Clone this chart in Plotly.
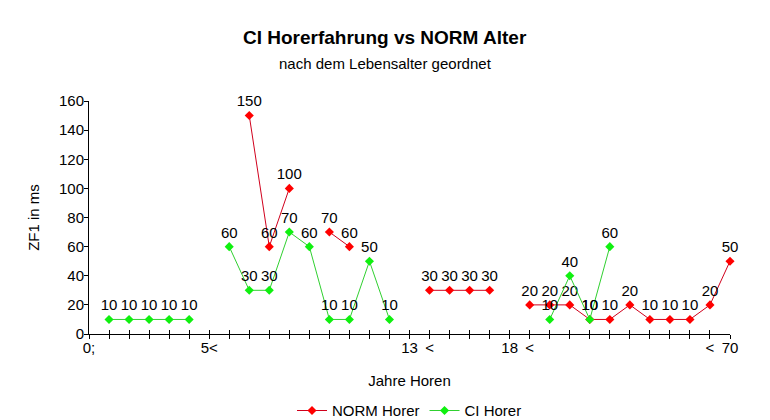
import plotly.graph_objects as go

# category positions 0..32 and their axis labels
tick_labels = ["0;", "", "", "", "", "", "5<", "", "", "", "", "", "", "", "", "", "13", "<",
               "", "", "", "18", "<", "", "", "", "", "", "", "", "", "<", "70"]
positions = list(range(len(tick_labels)))

# NORM Horer (red); None = gap
norm_values = [None, None, None, None, None, None, None, None, 150, 60, 100, None, 70, 60,
               None, None, None, 30, 30, 30, 30, None, 20, 20, 20, 10, 10, 20, 10, 10, 10, 20, 50]
# CI Horer (green)
ci_values = [None, 10, 10, 10, 10, 10, None, 60, 30, 30, 70, 60, 10, 10, 50, 10,
             None, None, None, None, None, None, None, 10, 40, 10, 60, None, None, None, None, None, None]

FONT = "Liberation Sans, Arial, sans-serif"
FS = 15
PLOT_LEFT, PLOT_RIGHT = 89, 730
PLOT_TOP, PLOT_BOTTOM = 101, 334

def lbl(vals):
    return ["" if v is None else str(v) for v in vals]

def paper_y(py):
    return (PLOT_BOTTOM - py) / (PLOT_BOTTOM - PLOT_TOP)

def paper_x(px):
    return (px - PLOT_LEFT) / (PLOT_RIGHT - PLOT_LEFT)

fig = go.Figure()
fig.add_trace(go.Scatter(
    x=positions, y=norm_values, name="NORM Horer", mode="lines+markers+text",
    line=dict(color="#d0001c", width=1),
    marker=dict(symbol="diamond", size=7, color="#ff0000"),
    text=lbl(norm_values), textposition="top center",
    textfont=dict(family=FONT, size=FS, color="#000000"),
    cliponaxis=False, connectgaps=False,
))
fig.add_trace(go.Scatter(
    x=positions, y=ci_values, name="CI Horer", mode="lines+markers+text",
    line=dict(color="#30d030", width=1),
    marker=dict(symbol="diamond", size=7, color="#10f010"),
    text=lbl(ci_values), textposition="top center",
    textfont=dict(family=FONT, size=FS, color="#000000"),
    cliponaxis=False, connectgaps=False,
))
# invisible trace to host an overlaid x-axis with inside ticks (crossing ticks)
fig.add_trace(go.Scatter(x=[positions[0]], y=[0], xaxis="x2", mode="markers",
                         marker=dict(opacity=0), showlegend=False, hoverinfo="skip"))

fig.update_layout(
    width=770, height=420,
    margin=dict(l=PLOT_LEFT, r=770 - PLOT_RIGHT, t=PLOT_TOP, b=420 - PLOT_BOTTOM, autoexpand=False),
    paper_bgcolor="white", plot_bgcolor="white",
    font=dict(family=FONT, size=FS, color="#000000"),
    xaxis=dict(
        range=[0, 32], tickmode="array", tickvals=positions, ticktext=tick_labels,
        showgrid=False, zeroline=False, showline=True, linecolor="#000000", linewidth=1,
        ticks="outside", ticklen=4, tickcolor="#000000", automargin=False,
        ticklabelstandoff=-4,
        tickfont=dict(family=FONT, size=FS),
        title=dict(text="Jahre Horen", font=dict(family=FONT, size=FS), standoff=20),
    ),
    xaxis2=dict(
        range=[0, 32], overlaying="x", anchor="y", side="bottom",
        tickmode="array", tickvals=positions, ticktext=[""] * len(positions),
        ticks="inside", ticklen=4, tickcolor="#000000",
        showgrid=False, zeroline=False, showline=False, automargin=False,
    ),
    yaxis=dict(
        range=[0, 160], dtick=20, showgrid=False, zeroline=False,
        showline=True, linecolor="#000000", linewidth=1,
        ticks="outside", ticklen=4, tickcolor="#000000", automargin=False,
        ticklabelstandoff=-3,
        tickfont=dict(family=FONT, size=FS),
        title=dict(text="ZF1 in ms", font=dict(family=FONT, size=FS), standoff=15),
    ),
    legend=dict(orientation="h", x=0.5, xanchor="center", xref="paper",
                y=0.022, yanchor="middle", yref="container",
                font=dict(family=FONT, size=FS), itemwidth=30, tracegroupgap=0),
    showlegend=True,
    annotations=[
        dict(text="<b>CI Horerfahrung vs NORM Alter</b>", xref="paper", yref="paper",
             x=paper_x(385), y=paper_y(37), xanchor="center", yanchor="middle", showarrow=False,
             font=dict(family=FONT, size=19, color="#000000")),
        dict(text="nach dem Lebensalter geordnet", xref="paper", yref="paper",
             x=paper_x(385), y=paper_y(63), xanchor="center", yanchor="middle", showarrow=False,
             font=dict(family=FONT, size=15, color="#000000")),
    ],
)

fig.write_html("out.html")
